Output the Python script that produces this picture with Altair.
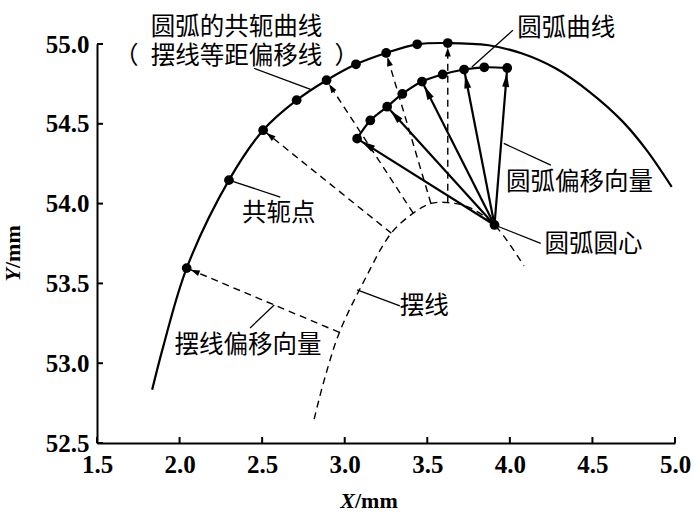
import altair as alt
import pandas as pd
import numpy as np

# ---------------- data ----------------
X_TICKS = [1.5, 2.0, 2.5, 3.0, 3.5, 4.0, 4.5, 5.0]
Y_TICKS = [52.5, 53.0, 53.5, 54.0, 54.5, 55.0]

# conjugate curve of the arc (solid outer curve)
CONJ_X = [1.834, 1.901, 2.043, 2.299, 2.506, 2.709, 2.890, 3.068, 3.251,
          3.439, 3.624, 3.872, 4.075, 4.279, 4.482, 4.685, 4.828, 4.980]
CONJ_Y = [52.833, 53.104, 53.596, 54.147, 54.460, 54.648, 54.773, 54.873, 54.944,
          54.998, 55.006, 54.992, 54.940, 54.846, 54.700, 54.512, 54.335, 54.105]

# conjugate points (dots on the outer curve)
DOT_X = [2.043, 2.299, 2.506, 2.709, 2.890, 3.068, 3.251, 3.439, 3.624]
DOT_Y = [53.596, 54.147, 54.460, 54.648, 54.773, 54.873, 54.944, 54.998, 55.006]

# arc curve (inner, with dots)
ARC_X = [3.075, 3.155, 3.257, 3.349, 3.468, 3.593, 3.723, 3.845, 3.984]
ARC_Y = [54.407, 54.521, 54.607, 54.687, 54.765, 54.809, 54.840, 54.854, 54.850]

# arc centre
CENTER_X = [3.907]
CENTER_Y = [53.866]

# cycloid (dashed)
CYC_X = [2.815, 2.876, 2.968, 3.120, 3.282, 3.415, 3.522, 3.624, 3.750, 3.907, 4.085]
CYC_Y = [52.650, 52.895, 53.193, 53.521, 53.815, 53.940, 54.001, 54.006, 53.978, 53.866, 53.609]

# which points are joined by offset vectors
ARC_VEC_IDX = [0, 2, 4, 6, 8]      # arc offset vectors: centre -> arc dots
CYC_VEC_IDX = [2, 4, 5, 6, 7]      # cycloid offset vectors: cycloid point ...
DOT_VEC_IDX = [0, 2, 4, 6, 8]      # ... -> conjugate dot

# annotations
LABELS = ["圆弧的共轭曲线\n（\u2002摆线等距偏移线\u2002）", "圆弧曲线", "圆弧偏移向量",
          "圆弧圆心", "共轭点", "摆线偏移向量", "摆线"]
LABEL_X = [2.345, 4.341, 4.421, 4.506, 2.601, 2.415, 3.482]
LABEL_Y = [55.098, 55.092, 54.128, 53.740, 53.934, 53.108, 53.352]

LEAD_X0 = [2.451, 4.018, 4.248, 3.907, 2.299, 2.427, 3.075]
LEAD_Y0 = [54.848, 55.086, 54.241, 53.866, 54.147, 53.221, 53.459]
LEAD_X1 = [2.793, 3.770, 3.963, 4.187, 2.610, 2.573, 3.334]
LEAD_Y1 = [54.716, 54.856, 54.377, 53.751, 54.041, 53.365, 53.359]

# ---------------- layout ----------------
W, H = 578, 399
XD = [1.5, 5.0]
YD = [52.5, 55.0]
SX = W / (XD[1] - XD[0])
SY = H / (YD[1] - YD[0])

xs = alt.Scale(domain=XD, nice=False, zero=False)
ys = alt.Scale(domain=YD, nice=False, zero=False)
AX_COMMON = dict(format=".1f", title=None, ticks=False, grid=False,
                 domainColor="black", domainWidth=2, labelFont="Liberation Serif",
                 labelFontSize=25, labelFontWeight="bold", labelColor="black",
                 labelFlush=False, labelOverlap=False)
ax_x = alt.Axis(values=X_TICKS, labelPadding=9, **AX_COMMON)
ax_y = alt.Axis(values=Y_TICKS, labelPadding=8, **AX_COMMON)


def X(f):
    return alt.X(f, type="quantitative", scale=xs, axis=ax_x)


def Y(f):
    return alt.Y(f, type="quantitative", scale=ys, axis=ax_y)


def angle_deg(x0, y0, x1, y1):
    return float(np.degrees(np.arctan2((x1 - x0) * SX, (y1 - y0) * SY)) % 360)


conj_df = pd.DataFrame({"x": CONJ_X, "y": CONJ_Y, "i": range(len(CONJ_X))})
dot_df = pd.DataFrame({"x": DOT_X, "y": DOT_Y})
arc_df = pd.DataFrame({"x": ARC_X, "y": ARC_Y, "i": range(len(ARC_X))})
cen_df = pd.DataFrame({"x": CENTER_X, "y": CENTER_Y})
cyc_df = pd.DataFrame({"x": CYC_X, "y": CYC_Y, "i": range(len(CYC_X))})

arc_vec = pd.DataFrame({
    "x": [CENTER_X[0]] * len(ARC_VEC_IDX),
    "y": [CENTER_Y[0]] * len(ARC_VEC_IDX),
    "x2": [ARC_X[k] for k in ARC_VEC_IDX],
    "y2": [ARC_Y[k] for k in ARC_VEC_IDX],
})
arc_vec["ang"] = [angle_deg(a, b, c, d) for a, b, c, d in
                  zip(arc_vec.x, arc_vec.y, arc_vec.x2, arc_vec.y2)]

cyc_vec = pd.DataFrame({
    "x": [CYC_X[k] for k in CYC_VEC_IDX],
    "y": [CYC_Y[k] for k in CYC_VEC_IDX],
    "x2": [DOT_X[k] for k in DOT_VEC_IDX],
    "y2": [DOT_Y[k] for k in DOT_VEC_IDX],
})
cyc_vec["ang"] = [angle_deg(a, b, c, d) for a, b, c, d in
                  zip(cyc_vec.x, cyc_vec.y, cyc_vec.x2, cyc_vec.y2)]

lab_df = pd.DataFrame({"x": LABEL_X, "y": LABEL_Y, "t": LABELS})
lead_df = pd.DataFrame({"x": LEAD_X0, "y": LEAD_Y0, "x2": LEAD_X1, "y2": LEAD_Y1})
xt_df = pd.DataFrame({"v": X_TICKS})
yt_df = pd.DataFrame({"v": Y_TICKS})

BIG_HEAD = "M0,0.71L-0.5,2.71L0.5,2.71Z"
SMALL_HEAD = "M0,1L-0.67,3L0.67,3Z"

layers = []

# ticks (inward)
layers.append(alt.Chart(xt_df).mark_rule(color="black", strokeWidth=2).encode(
    x=X("v"), y=alt.value(H), y2=alt.value(H - 6)))
layers.append(alt.Chart(yt_df).mark_rule(color="black", strokeWidth=2).encode(
    y=Y("v"), x=alt.value(0), x2=alt.value(6)))

# cycloid
layers.append(alt.Chart(cyc_df).mark_line(color="black", strokeWidth=1.4,
                                          strokeDash=[7, 5], interpolate="catmull-rom").encode(
    x=X("x"), y=Y("y"), order="i:O"))
# cycloid offset vectors (dashed)
layers.append(alt.Chart(cyc_vec).mark_rule(color="black", strokeWidth=1.4,
                                           strokeDash=[7, 5]).encode(
    x=X("x"), y=Y("y"), x2="x2:Q", y2="y2:Q"))
# conjugate curve
layers.append(alt.Chart(conj_df).mark_line(color="black", strokeWidth=2.2,
                                           interpolate="catmull-rom").encode(
    x=X("x"), y=Y("y"), order="i:O"))
# arc curve
layers.append(alt.Chart(arc_df).mark_line(color="black", strokeWidth=2.2,
                                          interpolate="catmull-rom").encode(
    x=X("x"), y=Y("y"), order="i:O"))
# arc offset vectors
layers.append(alt.Chart(arc_vec).mark_rule(color="black", strokeWidth=2.2).encode(
    x=X("x"), y=Y("y"), x2="x2:Q", y2="y2:Q"))
# leader lines
layers.append(alt.Chart(lead_df).mark_rule(color="black", strokeWidth=1.3).encode(
    x=X("x"), y=Y("y"), x2="x2:Q", y2="y2:Q"))
# dots
for df in (dot_df, arc_df, cen_df):
    layers.append(alt.Chart(df).mark_circle(color="black", size=95, opacity=1).encode(
        x=X("x"), y=Y("y")))
# arrow heads
layers.append(alt.Chart(arc_vec).mark_point(shape=BIG_HEAD, filled=True, size=196,
                                            color="black", opacity=1, strokeWidth=0).encode(
    x=X("x2"), y=Y("y2"), angle=alt.Angle("ang:Q", scale=None)))
layers.append(alt.Chart(cyc_vec).mark_point(shape=SMALL_HEAD, filled=True, size=81,
                                            color="black", opacity=1, strokeWidth=0).encode(
    x=X("x2"), y=Y("y2"), angle=alt.Angle("ang:Q", scale=None)))
# labels
layers.append(alt.Chart(lab_df).mark_text(font="Noto Sans CJK SC", fontSize=24.5,
                                          color="black", align="center",
                                          baseline="middle", lineBreak="\n",
                                          lineHeight=29).encode(
    x=X("x"), y=Y("y"), text="t:N"))

# axis titles
TITLE_FONT = dict(font="Liberation Serif", fontSize=22, fontWeight="bold", color="black",
                  baseline="middle")
layers.append(alt.Chart(pd.DataFrame({"t": ["X"]})).mark_text(
    align="right", fontStyle="italic", **TITLE_FONT).encode(
    x=alt.value(258), y=alt.value(457), text="t:N"))
layers.append(alt.Chart(pd.DataFrame({"t": ["/mm"]})).mark_text(
    align="left", **TITLE_FONT).encode(
    x=alt.value(258), y=alt.value(457), text="t:N"))
layers.append(alt.Chart(pd.DataFrame({"t": ["Y"]})).mark_text(
    align="right", angle=270, fontStyle="italic", **TITLE_FONT).encode(
    x=alt.value(-84), y=alt.value(224), text="t:N"))
layers.append(alt.Chart(pd.DataFrame({"t": ["/mm"]})).mark_text(
    align="left", angle=270, **TITLE_FONT).encode(
    x=alt.value(-84), y=alt.value(224), text="t:N"))

chart = alt.layer(*layers).properties(
    width=W, height=H,
    padding={"left": 97, "top": 44, "right": 25, "bottom": 76},
    autosize=alt.AutoSizeParams(type="none"),
    background="white",
).configure_view(stroke=None)

chart.save("out.html", embed_options={"renderer": "svg", "actions": False})
